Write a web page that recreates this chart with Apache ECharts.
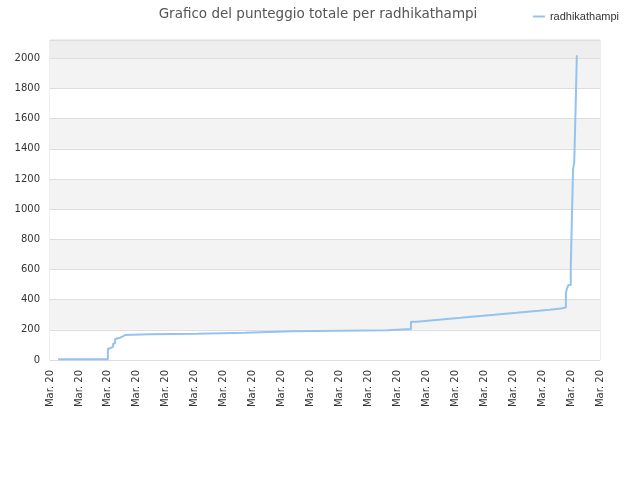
<!DOCTYPE html>
<html>
<head>
<meta charset="utf-8">
<script src="https://cdn.jsdelivr.net/npm/echarts@6/dist/echarts.min.js"></script>
<style>
  html, body { margin: 0; padding: 0; background: #fff; }
  #chart { width: 640px; height: 480px; }
</style>
</head>
<body>
<div id="chart"></div>
<script>
// posizione temporale (in intervalli di asse) e punteggio totale
var tempi = [0.28, 2.00, 2.07, 2.18, 2.25, 2.31, 2.42, 2.52, 2.59, 3.42, 5.08, 6.74, 8.36, 10.02, 11.68,
  12.47, 12.67, 13.05, 13.43, 13.81, 14.19, 14.57, 14.95, 15.35, 15.74, 16.12, 16.50, 16.88, 17.26, 17.65,
  17.82, 17.86, 17.91, 17.99, 18.03, 18.07, 18.11, 18.15, 18.20]
var punteggi = [5, 77, 88, 110, 139, 148, 157, 165, 170, 174, 181, 190, 194, 198, 205,
  253, 260, 267, 274, 280, 287, 293, 300, 307, 313, 320, 326, 333, 342, 348,
  442, 475, 497, 614, 950, 1265, 1309, 1611, 2020]
var etichettaX = 'Mar. 20'
var nomeSerie = 'radhikathampi'

var dati = tempi.map(function (t, i) { return [t, punteggi[i]] })

var chart = echarts.init(document.getElementById('chart'))
chart.setOption({
  animation: false,
  title: {
    text: 'Grafico del punteggio totale per radhikathampi',
    left: 313, top: 2, textAlign: 'center',
    textStyle: { fontSize: 13.5, fontWeight: 'normal', color: '#555', fontFamily: 'DejaVu Sans' }
  },
  legend: {
    right: 16, top: 6, itemWidth: 12, itemHeight: 2, itemGap: 6,
    icon: 'rect',
    textStyle: { fontSize: 11, color: '#333', fontFamily: 'Liberation Sans' },
    data: [nomeSerie]
  },
  grid: { left: 50, right: 40, top: 40, bottom: 120, show: true, borderColor: '#ddd', borderWidth: 1 },
  xAxis: {
    type: 'value', min: 0, max: 19, interval: 1,
    axisLine: { show: false }, axisTick: { show: false },
    splitLine: { show: false },
    axisLabel: {
      rotate: 90, margin: 10, fontSize: 10, color: '#333', fontFamily: 'DejaVu Sans',
      formatter: function () { return etichettaX }
    }
  },
  yAxis: {
    type: 'value', min: 0, max: 2121, interval: 200,
    axisLine: { show: false }, axisTick: { show: false },
    axisLabel: { fontSize: 10, color: '#333', margin: 10, fontFamily: 'DejaVu Sans',
      showMaxLabel: false, formatter: function (v) { return String(v) } },
    splitLine: { lineStyle: { color: '#ddd' } },
    splitArea: { show: true, areaStyle: { color: ['#fff', '#f3f3f3', '#fff', '#f3f3f3', '#fff', '#f3f3f3',
      '#fff', '#f3f3f3', '#fff', '#f3f3f3', '#eeeeee'] } }
  },
  series: [{
    name: nomeSerie, type: 'line', step: 'end', data: dati,
    showSymbol: false, symbol: 'none',
    lineStyle: { color: '#95c3f0', width: 2 },
    itemStyle: { color: '#95c3f0' }
  }]
})
</script>
</body>
</html>
